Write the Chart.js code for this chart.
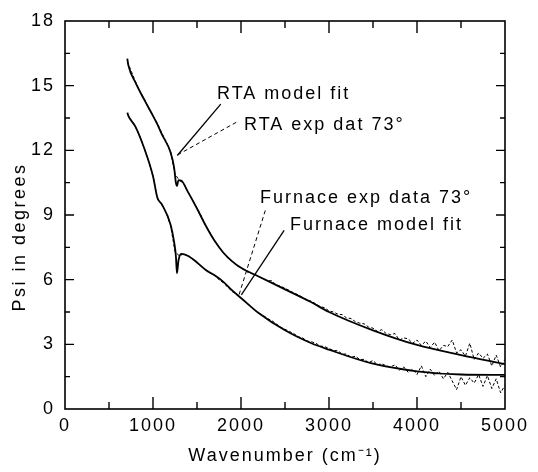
<!DOCTYPE html>
<html>
<head>
<meta charset="utf-8">
<script src="https://cdn.jsdelivr.net/npm/chart.js@4/dist/chart.umd.min.js"></script>
<style>
  html, body { margin: 0; padding: 0; background: #fff; }
  #wrap { width: 538px; height: 472px; }
</style>
</head>
<body>
<div id="wrap"><canvas id="psiChart"></canvas></div>
<script>
// Datos del modelo (curvas continuas)
const modelX = [708, 720, 800, 900, 1000, 1050, 1100, 1200, 1240, 1260, 1272, 1290, 1320, 1400, 1500, 1600, 1700, 1800, 1900, 2000, 2200, 2500, 2800, 3000, 3500, 4000, 4500, 5000];
const rtaModel = [16.25, 15.95, 15.15, 14.35, 13.6, 13.2, 12.75, 11.9, 11.2, 10.5, 10.35, 10.62, 10.6, 10.05, 9.3, 8.5, 7.8, 7.25, 6.85, 6.55, 6.15, 5.55, 4.95, 4.5, 3.65, 2.97, 2.5, 2.08];
const furnaceModel = [13.75, 13.6, 13.1, 12.1, 10.8, 9.8, 9.5, 8.55, 7.75, 7.1, 6.3, 6.9, 7.2, 7.1, 6.8, 6.45, 6.2, 5.9, 5.5, 5.15, 4.45, 3.65, 3.05, 2.75, 2.1, 1.75, 1.6, 1.58];

// Datos experimentales (73°)
const expX = [710, 750, 800, 850, 900, 950, 1000, 1050, 1100, 1150, 1200, 1250, 1300, 1350, 1400, 1450, 1500, 1550, 1600, 1650, 1700, 1750, 1800, 1850, 1900, 1950, 2000, 2050, 2100, 2150, 2200, 2250, 2300, 2350, 2400, 2450, 2500, 2550, 2600, 2650, 2700, 2750, 2800, 2850, 2900, 2950, 3000, 3050, 3100, 3150, 3200, 3250, 3300, 3350, 3400, 3450, 3500, 3550, 3600, 3650, 3700, 3750, 3800, 3850, 3900, 3950, 4000, 4050, 4100, 4150, 4200, 4250, 4300, 4350, 4400, 4450, 4500, 4550, 4600, 4650, 4700, 4750, 4800, 4850, 4900, 4950, 5000];
const rtaExp = [16.1, 15.7, 15.2, 14.75, 14.4, 13.95, 13.6, 13.25, 12.8, 12.4, 11.95, 10.9, 10.6, 10.45, 10.05, 9.7, 9.3, 8.95, 8.5, 8.15, 7.8, 7.5, 7.25, 7.0, 6.85, 6.65, 6.55, 6.4, 6.3, 6.25, 6.15, 6.05, 5.95, 5.95, 5.75, 5.7, 5.6, 5.5, 5.38, 5.3, 5.18, 5.05, 5.0, 4.88, 4.75, 4.7, 4.55, 4.5, 4.4, 4.38, 4.22, 4.2, 4.05, 3.98, 3.95, 3.8, 3.75, 3.6, 3.68, 3.5, 3.45, 3.5, 3.2, 3.3, 3.25, 3.05, 3.2, 2.95, 3.15, 2.85, 3.1, 2.7, 2.95, 2.9, 3.2, 2.6, 2.75, 2.45, 3.05, 2.3, 2.6, 2.35, 2.55, 2.0, 2.5, 1.95, 2.3];
const furnaceExp = [13.7, 13.4, 13.1, 12.65, 12.1, 11.5, 10.8, 9.75, 9.5, 9.1, 8.5, 7.3, 7.1, 7.2, 7.1, 6.95, 6.8, 6.6, 6.45, 6.3, 6.2, 6.0, 5.85, 5.65, 5.45, 5.3, 5.15, 4.95, 4.8, 4.6, 4.45, 4.35, 4.2, 4.1, 3.95, 3.8, 3.7, 3.6, 3.5, 3.35, 3.3, 3.15, 3.12, 3.05, 2.92, 2.9, 2.8, 2.72, 2.7, 2.55, 2.55, 2.4, 2.45, 2.3, 2.3, 2.15, 2.25, 2.05, 2.1, 2.0, 1.95, 2.05, 1.8, 1.95, 1.7, 1.85, 1.6, 2.0, 1.5, 1.85, 1.55, 1.75, 1.4, 1.7, 1.3, 0.9, 1.5, 1.1, 1.45, 1.2, 1.6, 1.05, 1.55, 0.95, 1.4, 0.75, 1.1];

// Etiquetas de los ejes
const xTicks = [0, 1000, 2000, 3000, 4000, 5000];
const yTicks = [0, 3, 6, 9, 12, 15, 18];
const yTitle = 'Psi in degrees';

// Anotaciones (texto y líneas guía, en coordenadas de datos)
const noteText = ['RTA model fit', 'RTA exp dat 73°', 'Furnace exp data 73°', 'Furnace model fit'];
const noteX = [1727, 2034, 2216, 2557];
const noteY = [14.6, 13.19, 9.78, 8.53];
const leaderFrom = [[1770, 14.14], [1946, 13.3], [2276, 9.21], [2490, 8.29]];
const leaderTo = [[1276, 11.76], [1284, 11.8], [1977, 5.29], [2004, 5.29]];
const leaderDashed = [false, true, true, false];

const FONT = '"Liberation Sans", Arial, Helvetica, sans-serif';

function toPoints(xs, ys) {
    return xs.map((x, i) => ({ x: x, y: ys[i] }));
}

// Marco, marcas interiores, título Y y anotaciones
const framePlugin = {
    id: 'frame',
    beforeDraw(chart) {
        chart.ctx.letterSpacing = '2px';
    },
    afterDatasetsDraw(chart) {
        const ctx = chart.ctx;
        const a = chart.chartArea;
        const xs = chart.scales.x;
        const ys = chart.scales.y;
        ctx.save();
        ctx.strokeStyle = '#000';
        ctx.lineWidth = 1.6;
        ctx.strokeRect(a.left, a.top, a.right - a.left, a.bottom - a.top);

        ctx.lineWidth = 1.4;
        ctx.beginPath();
        for (let v = 500; v < 5000; v += 500) {
            const px = xs.getPixelForValue(v);
            const len = v % 1000 === 0 ? 12 : 7;
            ctx.moveTo(px, a.bottom); ctx.lineTo(px, a.bottom - len);
            ctx.moveTo(px, a.top); ctx.lineTo(px, a.top + len);
        }
        for (let v = 1.5; v < 18; v += 1.5) {
            const py = ys.getPixelForValue(v);
            const len = v % 3 === 0 ? 9 : 5;
            ctx.moveTo(a.left, py); ctx.lineTo(a.left + len, py);
            ctx.moveTo(a.right, py); ctx.lineTo(a.right - len, py);
        }
        ctx.stroke();

        // líneas guía
        leaderFrom.forEach((p, i) => {
            ctx.beginPath();
            ctx.lineWidth = leaderDashed[i] ? 1 : 1.3;
            ctx.setLineDash(leaderDashed[i] ? [4, 3] : []);
            ctx.moveTo(xs.getPixelForValue(p[0]), ys.getPixelForValue(p[1]));
            ctx.lineTo(xs.getPixelForValue(leaderTo[i][0]), ys.getPixelForValue(leaderTo[i][1]));
            ctx.stroke();
        });
        ctx.setLineDash([]);

        // textos
        ctx.fillStyle = '#000';
        ctx.font = '18px ' + FONT;
        ctx.letterSpacing = '2px';
        ctx.textAlign = 'left';
        ctx.textBaseline = 'middle';
        noteText.forEach((t, i) => {
            ctx.fillText(t, xs.getPixelForValue(noteX[i]), ys.getPixelForValue(noteY[i]));
        });

        // título del eje Y (un poco por debajo del centro, como en el original)
        ctx.translate(20, (a.top + a.bottom) / 2 + 22);
        ctx.rotate(-Math.PI / 2);
        ctx.letterSpacing = '2.5px';
        ctx.textAlign = 'center';
        ctx.fillText(yTitle, 0, 0);
        ctx.restore();
    }
};

const ctx = document.getElementById('psiChart').getContext('2d');
const psiChart = new Chart(ctx, {
    type: 'line',
    data: {
        datasets: [
            {
                label: 'RTA exp dat 73°',
                data: toPoints(expX, rtaExp),
                borderColor: '#000',
                borderWidth: 1,
                borderDash: [3, 2],
                pointRadius: 0,
                tension: 0
            },
            {
                label: 'Furnace exp data 73°',
                data: toPoints(expX, furnaceExp),
                borderColor: '#000',
                borderWidth: 1,
                borderDash: [3, 2],
                pointRadius: 0,
                tension: 0
            },
            {
                label: 'RTA model fit',
                data: toPoints(modelX, rtaModel),
                borderColor: '#000',
                borderWidth: 1.8,
                pointRadius: 0,
                cubicInterpolationMode: 'monotone'
            },
            {
                label: 'Furnace model fit',
                data: toPoints(modelX, furnaceModel),
                borderColor: '#000',
                borderWidth: 1.8,
                pointRadius: 0,
                cubicInterpolationMode: 'monotone'
            }
        ]
    },
    options: {
        responsive: true,
        maintainAspectRatio: false,
        animation: false,
        events: [],
        layout: { padding: { top: 21, right: 33, left: 0, bottom: 0 } },
        plugins: {
            legend: { display: false },
            tooltip: { enabled: false }
        },
        scales: {
            x: {
                type: 'linear',
                min: 0,
                max: 5000,
                afterFit(scale) { scale.height = 63; },
                afterBuildTicks(scale) { scale.ticks = xTicks.map(v => ({ value: v })); },
                grid: { display: false },
                border: { display: false },
                ticks: {
                    color: '#000',
                    padding: -2,
                    maxRotation: 0,
                    callback: v => String(v),
                    font: { family: FONT, size: 18 }
                },
                title: {
                    display: true,
                    text: 'Wavenumber (cm⁻¹)',
                    color: '#000',
                    padding: { top: 0, bottom: 5 },
                    font: { family: FONT, size: 18 }
                }
            },
            y: {
                type: 'linear',
                min: 0,
                max: 18,
                afterFit(scale) { scale.width = 65; },
                afterBuildTicks(scale) { scale.ticks = yTicks.map(v => ({ value: v })); },
                grid: { display: false },
                border: { display: false },
                ticks: {
                    color: '#000',
                    padding: 2,
                    callback: v => String(v),
                    font: { family: FONT, size: 18 }
                },
                title: { display: false }
            }
        }
    },
    plugins: [framePlugin]
});
</script>
</body>
</html>
